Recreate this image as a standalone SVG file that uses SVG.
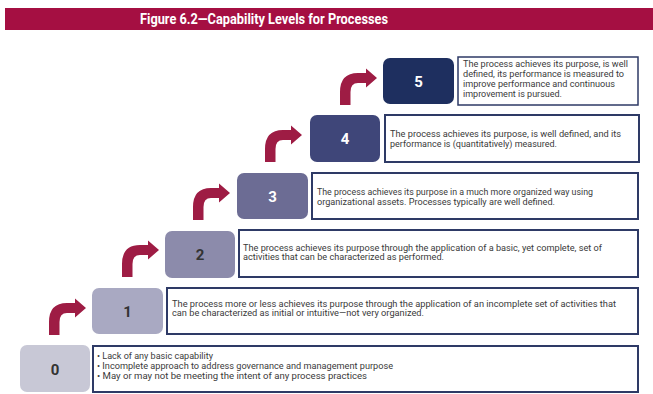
<svg xmlns="http://www.w3.org/2000/svg" width="653" height="394" viewBox="0 0 653 394">
<defs>
<style>
.lvl{stroke:none}
.num{font-family:Roboto,"Liberation Sans",sans-serif;font-weight:bold;font-size:15px;text-anchor:middle}
.desc{fill:#fff;stroke:#2E3A66;stroke-width:2}
.t{font-family:Roboto,"Liberation Sans",sans-serif;font-size:9px;fill:#3a3a3a}
.arrow{fill:#9E1C44}
</style>
<path id="arr" d="M0,0 L0,-13 Q0,-32 18,-32 L26,-32 L26,-36.5 L37,-27 L26,-17.5 L26,-22 L18,-22 Q10.5,-22 10.5,-13 L10.5,0 Z"/>
</defs>
<rect width="653" height="394" fill="#fff"/>
<g id="title">
<rect x="5" y="8" width="648" height="22" fill="#A50F42"/>
<text x="264" y="23.5" text-anchor="middle" font-family="Roboto,'Liberation Sans',sans-serif" font-weight="bold" font-size="14" fill="#fff" textLength="248" lengthAdjust="spacingAndGlyphs">Figure 6.2—Capability Levels for Processes</text>
</g>
<g id="connectors" class="arrow">
<use href="#arr" x="49" y="335"/>
<use href="#arr" x="122" y="277"/>
<use href="#arr" x="193" y="220"/>
<use href="#arr" x="265" y="162"/>
<use href="#arr" x="340" y="105"/>
</g>
<g id="level0">
<rect x="20" y="345" width="70" height="47" rx="7" fill="#C8C8D6"/>
<text class="num" x="55" y="374.5" fill="#333">0</text>
<rect class="desc" x="93" y="346" width="545" height="46"/>
<text class="t" x="97" y="359" textLength="116" lengthAdjust="spacingAndGlyphs">• Lack of any basic capability</text>
<text class="t" x="97" y="369" textLength="296" lengthAdjust="spacingAndGlyphs">• Incomplete approach to address governance and management purpose</text>
<text class="t" x="97" y="379" textLength="270" lengthAdjust="spacingAndGlyphs">• May or may not be meeting the intent of any process practices</text>
</g>
<g id="level1">
<rect x="92" y="288" width="71" height="46" rx="7" fill="#A9A9C2"/>
<text class="num" x="127.5" y="316.5" fill="#333">1</text>
<rect class="desc" x="167" y="288" width="471" height="46"/>
<text class="t" x="172" y="306.5" textLength="444" lengthAdjust="spacingAndGlyphs">The process more or less achieves its purpose through the application of an incomplete set of activities that</text>
<text class="t" x="172" y="316" textLength="252" lengthAdjust="spacingAndGlyphs">can be characterized as initial or intuitive—not very organized.</text>
</g>
<g id="level2">
<rect x="165" y="231" width="70" height="47" rx="7" fill="#8C8BAB"/>
<text class="num" x="200" y="259.5" fill="#333">2</text>
<rect class="desc" x="239" y="230" width="399" height="47"/>
<text class="t" x="243" y="250.5" textLength="359" lengthAdjust="spacingAndGlyphs">The process achieves its purpose through the application of a basic, yet complete, set of</text>
<text class="t" x="243" y="260" textLength="201" lengthAdjust="spacingAndGlyphs">activities that can be characterized as performed.</text>
</g>
<g id="level3">
<rect x="237" y="173" width="71" height="46" rx="7" fill="#6C6C94"/>
<text class="num" x="272.5" y="201.5" fill="#fff">3</text>
<rect class="desc" x="312" y="173" width="326" height="46"/>
<text class="t" x="317" y="195" textLength="276" lengthAdjust="spacingAndGlyphs">The process achieves its purpose in a much more organized way using</text>
<text class="t" x="317" y="204.5" textLength="238" lengthAdjust="spacingAndGlyphs">organizational assets. Processes typically are well defined.</text>
</g>
<g id="level4">
<rect x="310" y="115" width="70" height="47" rx="7" fill="#3F4679"/>
<text class="num" x="345" y="143.5" fill="#fff">4</text>
<rect class="desc" x="385" y="115" width="254" height="47"/>
<text class="t" x="390" y="137" font-size="9.5" textLength="231" lengthAdjust="spacingAndGlyphs">The process achieves its purpose, is well defined, and its</text>
<text class="t" x="390" y="146.5" font-size="9.5" textLength="167" lengthAdjust="spacingAndGlyphs">performance is (quantitatively) measured.</text>
</g>
<g id="level5">
<rect x="383" y="58" width="71" height="46" rx="7" fill="#1E2F5F"/>
<text class="num" x="418.5" y="86.5" fill="#fff">5</text>
<rect class="desc" x="458" y="57" width="180" height="48" style="stroke-width:1.5"/>
<text class="t" x="463" y="67" font-size="10" textLength="165" lengthAdjust="spacingAndGlyphs">The process achieves its purpose, is well</text>
<text class="t" x="463" y="77" font-size="10" textLength="161" lengthAdjust="spacingAndGlyphs">defined, its performance is measured to</text>
<text class="t" x="463" y="87" font-size="10" textLength="152" lengthAdjust="spacingAndGlyphs">improve performance and continuous</text>
<text class="t" x="463" y="97" font-size="10" textLength="99" lengthAdjust="spacingAndGlyphs">improvement is pursued.</text>
</g>
</svg>
